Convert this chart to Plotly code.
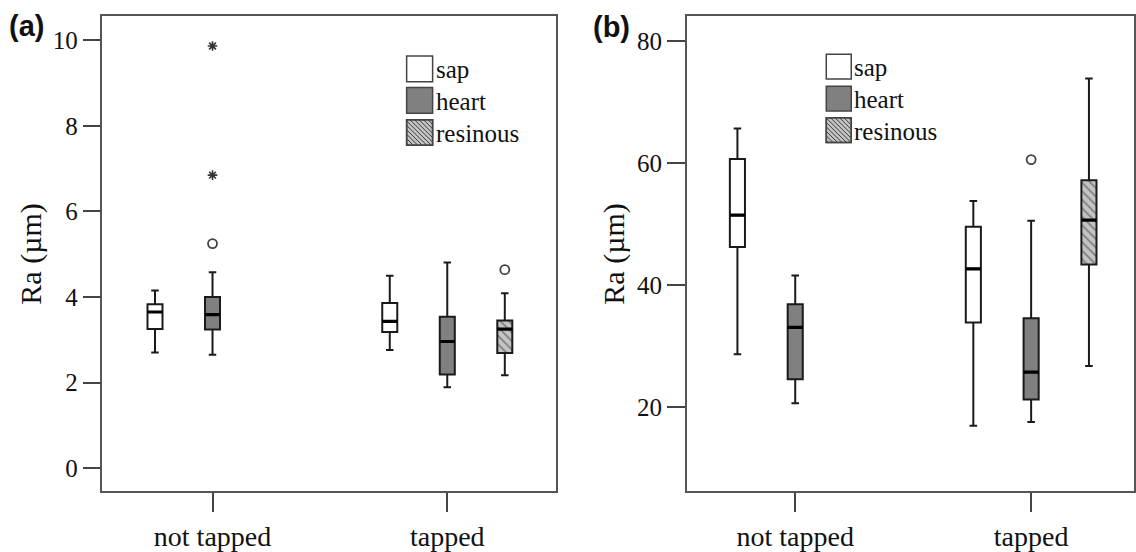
import plotly.graph_objects as go

W, H = 1136, 552

CATEGORIES = ["not tapped", "tapped"]
SERIES = ["sap", "heart", "resinous"]

# Panel (a): rows = sap, heart, resinous ; columns = not tapped, tapped
A_LOWER = [[2.70, 2.76], [2.65, 1.89], [None, 2.17]]
A_Q1 = [[3.25, 3.18], [3.24, 2.19], [None, 2.69]]
A_MEDIAN = [[3.65, 3.43], [3.59, 2.96], [None, 3.25]]
A_Q3 = [[3.83, 3.86], [4.00, 3.54], [None, 3.45]]
A_UPPER = [[4.15, 4.50], [4.58, 4.81], [None, 4.09]]
# outliers: (series index, category index, value)
A_OUTLIERS = [(1, 0, 5.25), (2, 1, 4.64)]
A_EXTREMES = [(1, 0, 6.85), (1, 0, 9.87)]
A_YTICKS = [0, 2, 4, 6, 8, 10]

# Panel (b)
B_LOWER = [[28.7, 17.0], [20.7, 17.6], [None, 26.8]]
B_Q1 = [[46.3, 33.9], [24.6, 21.3], [None, 43.4]]
B_MEDIAN = [[51.5, 42.7], [33.1, 25.8], [None, 50.7]]
B_Q3 = [[60.7, 49.6], [36.9, 34.6], [None, 57.2]]
B_UPPER = [[65.7, 53.8], [41.6, 50.6], [None, 73.9]]
B_OUTLIERS = [(1, 1, 60.6)]
B_EXTREMES = []
B_YTICKS = [20, 40, 60, 80]

Y_TITLE = "Ra (µm)"

# ---------------- styling ----------------
OFFSETS = [-0.245, 0.0, 0.245]
BOX_W = 0.064
FILLS = ["#ffffff", "#808080", "rgba(0,0,0,0)"]
HATCH_BG = "#c4c4c4"
HATCH_FG = "#3a3a3a"
SERIF = "Liberation Serif, Tinos, Times New Roman, serif"

fig = go.Figure()


def add_panel(xa, ya, lower, q1, med, q3, upper, outl, extr):
    xref = "x" if xa == "xaxis" else "x2"
    yref = "y" if ya == "yaxis" else "y2"
    mx, my = [], []
    for si, name in enumerate(SERIES):
        xs, l_, a_, m_, b_, u_ = [], [], [], [], [], []
        for ci in range(len(CATEGORIES)):
            if med[si][ci] is None:
                continue
            xs.append(ci + OFFSETS[si])
            l_.append(lower[si][ci]); a_.append(q1[si][ci]); m_.append(med[si][ci])
            b_.append(q3[si][ci]); u_.append(upper[si][ci])
            mx += [ci + OFFSETS[si] - BOX_W / 2, ci + OFFSETS[si] + BOX_W / 2, None]
            my += [med[si][ci], med[si][ci], None]
        if name == "resinous":
            fig.add_trace(go.Bar(
                x=xs, y=[b - a for a, b in zip(a_, b_)], base=a_, width=BOX_W,
                marker=dict(color=HATCH_BG, line=dict(width=0),
                            pattern=dict(shape="\\", fgcolor=HATCH_FG, bgcolor=HATCH_BG,
                                         size=6, solidity=0.3)),
                showlegend=False, hoverinfo="skip", xaxis=xref, yaxis=yref))
        fig.add_trace(go.Box(
            x=xs, q1=a_, median=m_, q3=b_, lowerfence=l_, upperfence=u_,
            width=BOX_W, whiskerwidth=0.5, fillcolor=FILLS[si],
            line=dict(color="#1a1a1a", width=2), boxpoints=False,
            name=name, showlegend=False, xaxis=xref, yaxis=yref))
    fig.add_trace(go.Scatter(x=mx, y=my, mode="lines",
                             line=dict(color="#000000", width=3.2),
                             showlegend=False, hoverinfo="skip", xaxis=xref, yaxis=yref))
    if outl:
        fig.add_trace(go.Scatter(
            x=[c + OFFSETS[s] for s, c, v in outl], y=[v for s, c, v in outl],
            mode="markers",
            marker=dict(symbol="circle-open", size=9, color="#444444",
                        line=dict(width=1.8, color="#444444")),
            showlegend=False, xaxis=xref, yaxis=yref))
    if extr:
        fig.add_trace(go.Scatter(
            x=[c + OFFSETS[s] for s, c, v in extr], y=[v for s, c, v in extr],
            mode="markers",
            marker=dict(symbol="asterisk-open", size=8, color="#333333",
                        line=dict(width=1.6, color="#333333")),
            showlegend=False, xaxis=xref, yaxis=yref))


add_panel("xaxis", "yaxis", A_LOWER, A_Q1, A_MEDIAN, A_Q3, A_UPPER, A_OUTLIERS, A_EXTREMES)
add_panel("xaxis2", "yaxis2", B_LOWER, B_Q1, B_MEDIAN, B_Q3, B_UPPER, B_OUTLIERS, B_EXTREMES)

axis_common = dict(showline=True, linecolor="#555555", linewidth=1.5, mirror=True,
                   ticks="outside", tickwidth=1.5, tickcolor="#444444",
                   showgrid=False, zeroline=False)


def px(x):
    return x / W


def py(y):
    return 1 - y / H


fig.update_layout(
    width=W, height=H, autosize=False,
    margin=dict(l=0, r=0, t=0, b=0),
    paper_bgcolor="white", plot_bgcolor="white",
    barmode="overlay",
    font=dict(family=SERIF, color="#111111"),
    xaxis=dict(domain=[px(102.5), px(556)], range=[-0.469, 1.461], anchor="y",
               tickvals=list(range(len(CATEGORIES))), ticktext=CATEGORIES, ticklen=19,
               tickfont=dict(family=SERIF, size=28, color="#111111"), **axis_common),
    yaxis=dict(domain=[py(497.7), py(16.7)], range=[-0.545, 10.56], anchor="x",
               tickvals=A_YTICKS, ticklen=18,
               tickfont=dict(family=SERIF, size=25, color="#111111"),
               title=dict(text=Y_TITLE, font=dict(family=SERIF, size=30, color="#111111"),
                          standoff=2), **axis_common),
    xaxis2=dict(domain=[px(687.3), px(1135)], range=[-0.46, 1.436], anchor="y2",
                tickvals=list(range(len(CATEGORIES))), ticktext=CATEGORIES, ticklen=19,
                tickfont=dict(family=SERIF, size=28, color="#111111"), **axis_common),
    yaxis2=dict(domain=[py(497.7), py(16.7)], range=[6.25, 84.04], anchor="x2",
                tickvals=B_YTICKS, ticklen=18,
                tickfont=dict(family=SERIF, size=25, color="#111111"),
                title=dict(text=Y_TITLE, font=dict(family=SERIF, size=30, color="#111111"),
                           standoff=3), **axis_common),
)

# ---------------- custom legends & panel labels ----------------
shapes, annotations = [], []


def hatch_path(x0, y0, x1, y1, step=4.5):
    s = x1 - x0
    parts = []
    c = -s + step / 2
    while c < s:
        if c >= 0:
            a = (x0 + c, y0); b = (x1, y1 - c)
        else:
            a = (x0, y0 - c); b = (x1 + c, y1)
        parts.append("M%.5f,%.5f L%.5f,%.5f" % (px(a[0]), py(a[1]), px(b[0]), py(b[1])))
        c += step
    return " ".join(parts)


def add_legend(x0, tops, size):
    fills = ["#ffffff", "#808080", HATCH_BG]
    for i, name in enumerate(SERIES):
        y0 = tops[i]
        shapes.append(dict(type="rect", xref="paper", yref="paper",
                           x0=px(x0), x1=px(x0 + size), y0=py(y0 + size), y1=py(y0),
                           fillcolor=fills[i], line=dict(color="#444444", width=1.5)))
        if name == "resinous":
            shapes.append(dict(type="path", xref="paper", yref="paper",
                               path=hatch_path(x0, y0, x0 + size, y0 + size),
                               line=dict(color=HATCH_FG, width=1)))
            shapes.append(dict(type="rect", xref="paper", yref="paper",
                               x0=px(x0), x1=px(x0 + size), y0=py(y0 + size), y1=py(y0),
                               fillcolor="rgba(0,0,0,0)", line=dict(color="#444444", width=1.5)))
        annotations.append(dict(xref="paper", yref="paper", x=px(x0 + size + 1),
                                y=py(y0 + size / 2 + 1), text=name, showarrow=False,
                                xanchor="left", yanchor="middle",
                                font=dict(family=SERIF, size=25, color="#111111")))


add_legend(407, [56.7, 88.7, 121.2], 26)
add_legend(827, [55, 87.3, 119.3], 25)

for label, cx, cy in [("(a)", 27, 26), ("(b)", 612, 27)]:
    annotations.append(dict(xref="paper", yref="paper", x=px(cx), y=py(cy),
                            text="<b>%s</b>" % label, showarrow=False,
                            xanchor="center", yanchor="middle",
                            font=dict(family="Liberation Sans, Arial, sans-serif", size=29,
                                      color="#111111")))

fig.update_layout(shapes=shapes, annotations=annotations)

fig.write_html("out.html")
